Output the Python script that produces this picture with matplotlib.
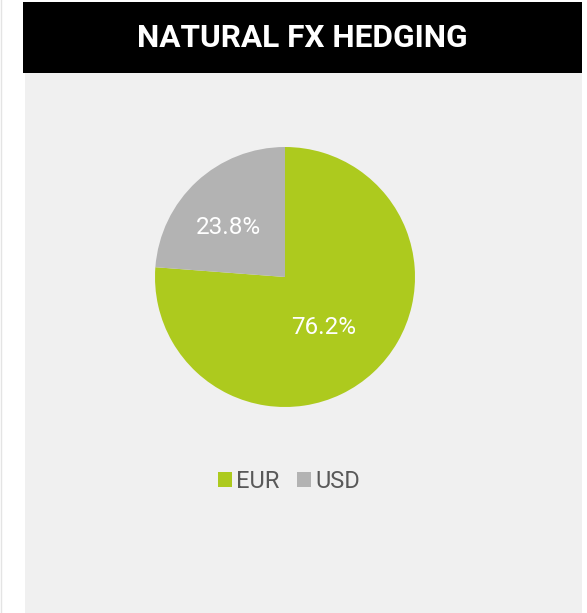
import matplotlib
matplotlib.use("Agg")
import matplotlib.pyplot as plt
import numpy as np
from matplotlib.patches import Rectangle, Patch
from matplotlib.lines import Line2D

title = "NATURAL FX HEDGING"
categories = ["EUR", "USD"]
values = [76.2, 23.8]
colors = ["#adca1e", "#b3b3b3"]

W, H = 587, 613
fig = plt.figure(figsize=(W / 100, H / 100), dpi=100)
fig.patch.set_facecolor("white")

def fx(px):
    return px / W

def fy(py):
    return 1 - py / H

# panel background
fig.patches.append(Rectangle((fx(25), 0), fx(582) - fx(25), fy(73), transform=fig.transFigure,
                             facecolor="#f0f0f0", edgecolor="none", zorder=-2))
# title bar
fig.patches.append(Rectangle((fx(23), fy(73)), fx(582) - fx(23), fy(2) - fy(73), transform=fig.transFigure,
                             facecolor="black", edgecolor="none", zorder=-2))
# faint left border line
fig.lines.append(Line2D([fx(1), fx(1)], [0, 1], transform=fig.transFigure, color="#e4e4e4", lw=1, zorder=-2))

fig.text(fx(302), fy(38), title, color="white", fontsize=22.8, fontweight="bold",
         family=["Roboto", "DejaVu Sans"], ha="center", va="center")

cx, cy, r = 285, 277, 130
ax = fig.add_axes([fx(cx - r), fy(cy + r), (2 * r) / W, (2 * r) / H])
ax.set_facecolor("none")
wedges, texts, autotexts = ax.pie(values, colors=colors, startangle=90, counterclock=False,
                                  autopct=lambda p: f"{p:.1f}%", pctdistance=0.53,
                                  wedgeprops=dict(linewidth=0),
                                  textprops=dict(color="white", fontsize=17.5,
                                                 family=["Roboto", "DejaVu Sans"]))
# label placement (distance from centre as fraction of radius, angular shift in degrees)
label_dist = [0.49, 0.575]
label_shift = [-6, 6]
for w, t, d, s in zip(wedges, autotexts, label_dist, label_shift):
    ang = np.deg2rad((w.theta1 + w.theta2) / 2 + s)
    t.set_position((d * np.cos(ang), d * np.sin(ang)))

ax.set_xlim(-1, 1)
ax.set_ylim(-1, 1)
ax.set_aspect("auto")
ax.axis("off")

handles = [Patch(facecolor=c, edgecolor="none", label=l) for c, l in zip(colors, categories)]
leg = fig.legend(handles=handles, loc="center", bbox_to_anchor=(fx(289), fy(481)), ncol=2,
                 frameon=False, handlelength=0.6, handleheight=0.6, handletextpad=0.2,
                 columnspacing=0.72, prop=dict(family=["Roboto", "DejaVu Sans"], size=17))
for t in leg.get_texts():
    t.set_color("#595959")

fig.savefig("out.png", dpi=100, facecolor=fig.get_facecolor())
